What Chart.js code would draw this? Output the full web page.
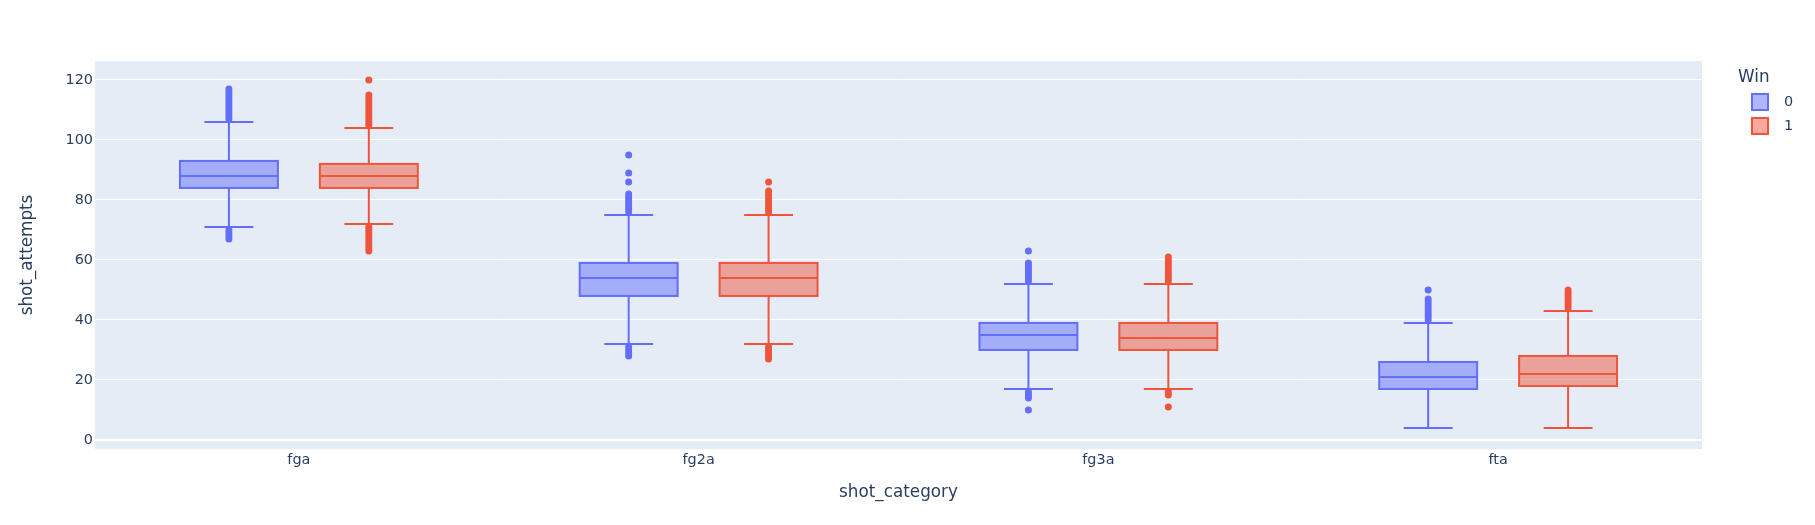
<!DOCTYPE html>
<html>
<head>
<meta charset="utf-8">
<script src="https://cdn.jsdelivr.net/npm/chart.js@4.4.1/dist/chart.umd.min.js"></script>
<style>
  html, body { margin: 0; padding: 0; background: #fff; }
  #wrap { width: 1815px; height: 525px; position: relative; }
</style>
</head>
<body>
<div id="wrap"><canvas id="boxChart"></canvas></div>
<script>
// categorias y grupos
const categories = ['fga', 'fg2a', 'fg3a', 'fta'];
const winGroups = ['0', '1'];
const yTicks = [0, 20, 40, 60, 80, 100, 120];

// Win = 0
const q1Win0 = [84, 48, 30, 17];
const medianWin0 = [88, 54, 35, 21];
const q3Win0 = [93, 59, 39, 26];
const lowWin0 = [71, 32, 17, 4];
const highWin0 = [106, 75, 52, 39];
const outliersWin0 = [
    [67, 68, 69, 70, 107, 108, 109, 110, 111, 112, 113, 114, 115, 116, 117],
    [28, 29, 30, 31, 76, 77, 78, 79, 80, 81, 82, 86, 89, 95],
    [10, 14, 15, 16, 53, 54, 55, 56, 57, 58, 59, 63],
    [40, 41, 42, 43, 44, 45, 46, 47, 50]
];

// Win = 1
const q1Win1 = [84, 48, 30, 18];
const medianWin1 = [88, 54, 34, 22];
const q3Win1 = [92, 59, 39, 28];
const lowWin1 = [72, 32, 17, 4];
const highWin1 = [104, 75, 52, 43];
const outliersWin1 = [
    [63, 64, 65, 66, 67, 68, 69, 70, 71, 105, 106, 107, 108, 109, 110, 111, 112, 113, 114, 115, 120],
    [27, 28, 29, 30, 31, 76, 77, 78, 79, 80, 81, 82, 83, 86],
    [11, 15, 16, 53, 54, 55, 56, 57, 58, 59, 60, 61],
    [44, 45, 46, 47, 48, 49, 50]
];

const lineColors = ['#636efa', '#ef553b'];
const fillColors = ['rgba(99, 110, 250, 0.5)', 'rgba(239, 85, 59, 0.5)'];
const groupOffsets = [-0.175, 0.175];
const boxWidth = 0.245;
const textColor = '#2a3f5f';
const fontFamily = '"DejaVu Sans", Verdana, sans-serif';

const series = [
    { q1: q1Win0, med: medianWin0, q3: q3Win0, lo: lowWin0, hi: highWin0, out: outliersWin0 },
    { q1: q1Win1, med: medianWin1, q3: q3Win1, lo: lowWin1, hi: highWin1, out: outliersWin1 }
];

// fondo del area del grafico
const plotBg = {
    id: 'plotBg',
    beforeDraw(chart) {
        const { ctx, chartArea: a } = chart;
        ctx.save();
        ctx.fillStyle = '#e5ecf6';
        ctx.fillRect(a.left, a.top, a.right - a.left, a.bottom - a.top);
        ctx.restore();
    }
};

// cajas, medianas y bigotes
const boxes = {
    id: 'boxes',
    beforeDatasetsDraw(chart) {
        const { ctx, scales: { x, y } } = chart;
        ctx.save();
        ctx.lineWidth = 2;
        series.forEach((s, g) => {
            categories.forEach((c, i) => {
                const pos = i + groupOffsets[g];
                const xc = x.getPixelForValue(pos);
                const half = x.getPixelForValue(pos + boxWidth / 2) - xc;
                const yQ1 = y.getPixelForValue(s.q1[i]);
                const yQ3 = y.getPixelForValue(s.q3[i]);
                const yMed = y.getPixelForValue(s.med[i]);
                const yLo = y.getPixelForValue(s.lo[i]);
                const yHi = y.getPixelForValue(s.hi[i]);
                ctx.strokeStyle = lineColors[g];
                ctx.beginPath();
                ctx.moveTo(xc, yQ3); ctx.lineTo(xc, yHi);
                ctx.moveTo(xc, yQ1); ctx.lineTo(xc, yLo);
                ctx.moveTo(xc - half / 2, yHi); ctx.lineTo(xc + half / 2, yHi);
                ctx.moveTo(xc - half / 2, yLo); ctx.lineTo(xc + half / 2, yLo);
                ctx.stroke();
                ctx.fillStyle = fillColors[g];
                ctx.fillRect(xc - half, yQ3, half * 2, yQ1 - yQ3);
                ctx.strokeRect(xc - half, yQ3, half * 2, yQ1 - yQ3);
                ctx.beginPath();
                ctx.moveTo(xc - half, yMed); ctx.lineTo(xc + half, yMed);
                ctx.stroke();
            });
        });
        ctx.restore();
    }
};

// leyenda a la derecha
const sideLegend = {
    id: 'sideLegend',
    afterDraw(chart) {
        const { ctx } = chart;
        ctx.save();
        ctx.textBaseline = 'middle';
        ctx.textAlign = 'left';
        ctx.fillStyle = textColor;
        ctx.font = '16.8px ' + fontFamily;
        ctx.fillText('Win', 1738, 78);
        ctx.font = '14.4px ' + fontFamily;
        winGroups.forEach((label, g) => {
            const yTop = 94 + g * 24;
            ctx.fillStyle = '#ffffff';
            ctx.fillRect(1752, yTop, 16, 16);
            ctx.fillStyle = fillColors[g];
            ctx.fillRect(1752, yTop, 16, 16);
            ctx.strokeStyle = lineColors[g];
            ctx.lineWidth = 2;
            ctx.strokeRect(1752, yTop, 16, 16);
            ctx.fillStyle = textColor;
            ctx.fillText(label, 1784, yTop + 8);
        });
        ctx.restore();
    }
};

const datasets = series.map((s, g) => ({
    label: winGroups[g],
    data: s.out.flatMap((vals, i) => vals.map(v => ({ x: i + groupOffsets[g], y: v }))),
    backgroundColor: lineColors[g],
    borderWidth: 0,
    pointRadius: 3.5,
    pointHoverRadius: 3.5
}));

new Chart(document.getElementById('boxChart'), {
    type: 'scatter',
    data: { datasets },
    options: {
        responsive: true,
        maintainAspectRatio: false,
        animation: false,
        layout: { padding: { left: 0, top: 61, right: 113, bottom: 0 } },
        plugins: {
            legend: { display: false },
            tooltip: { enabled: false }
        },
        scales: {
            x: {
                type: 'linear',
                min: -0.51,
                max: 3.51,
                afterBuildTicks: s => { s.ticks = categories.map((c, i) => ({ value: i })); },
                afterFit: s => { s.height = 76; },
                grid: { display: false, drawTicks: false },
                border: { display: false },
                ticks: {
                    callback: v => categories[v],
                    color: textColor,
                    font: { family: fontFamily, size: 14.4 },
                    padding: 3,
                    maxRotation: 0
                },
                title: {
                    display: true,
                    text: 'shot_category',
                    color: textColor,
                    font: { family: fontFamily, size: 16.8 },
                    padding: { top: 0, bottom: 22 }
                }
            },
            y: {
                min: -3,
                max: 126.3,
                afterBuildTicks: s => { s.ticks = yTicks.map(v => ({ value: v })); },
                afterFit: s => { s.width = 95; },
                grid: {
                    color: '#ffffff',
                    lineWidth: c => (c.tick && c.tick.value === 0 ? 2 : 1),
                    drawTicks: false
                },
                border: { display: false },
                ticks: {
                    color: textColor,
                    font: { family: fontFamily, size: 14.4 },
                    padding: 2
                },
                title: {
                    display: true,
                    text: 'shot_attempts',
                    color: textColor,
                    font: { family: fontFamily, size: 16.8 },
                    padding: { top: 18, bottom: 0 }
                }
            }
        }
    },
    plugins: [plotBg, boxes, sideLegend]
});
</script>
</body>
</html>
